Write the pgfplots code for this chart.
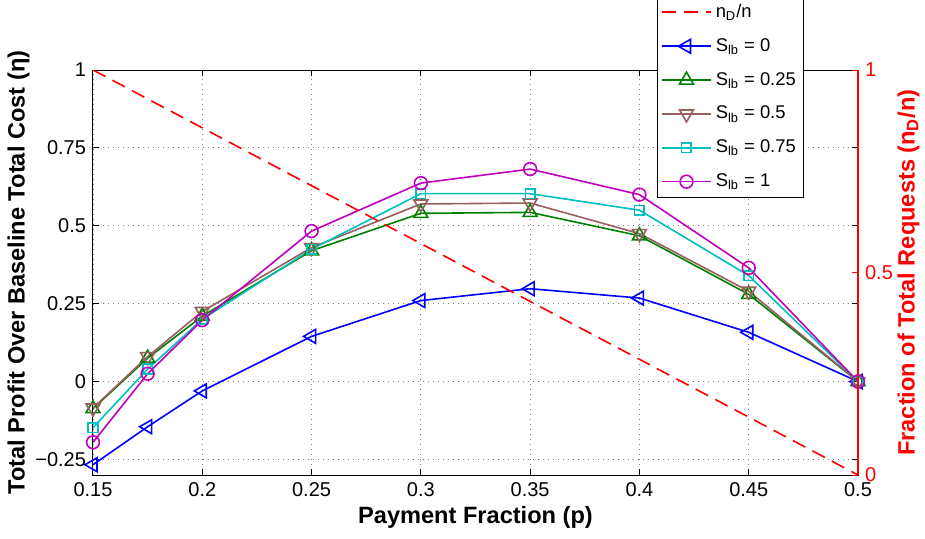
\documentclass[border=0pt]{standalone}
\usepackage{pgfplots}
\pgfplotsset{compat=1.18}
\usepackage{fontspec}
\setmainfont{Liberation Sans}
\definecolor{mblue}{rgb}{0,0,1}
\definecolor{mgreen}{rgb}{0,0.5,0}
\definecolor{mbrown}{rgb}{0.6,0.37,0.37}
\definecolor{mcyan}{rgb}{0,0.75,0.75}
\definecolor{mmag}{rgb}{0.75,0,0.75}
\pgfplotsset{
  base/.style={
    at={(0,0)}, anchor=south west, scale only axis,
    width=382.5pt, height=202.5pt,
    xmin=0.15, xmax=0.5,
    tick align=inside, major tick length=3pt,
    /pgf/number format/assume math mode=true,
    tick label style={font=\fontsize{10}{12}\selectfont},
    label style={font=\fontsize{11.8}{13}\selectfont\bfseries},
    axis line style={line width=0.5pt},
    every tick/.style={line width=0.5pt},
  },
  s0/.style={mblue, line width=0.8pt, mark=triangle, mark size=4pt, mark options={rotate=90, solid}},
  s1/.style={mgreen, line width=0.8pt, mark=triangle, mark size=4pt, mark options={solid}},
  s2/.style={mbrown, line width=0.8pt, mark=triangle, mark size=4pt, mark options={rotate=180, solid}},
  s3/.style={mcyan, line width=0.8pt, mark=square, mark size=2.4pt, mark options={solid}},
  s4/.style={mmag, line width=0.8pt, mark=o, mark size=3.2pt, mark options={solid}},
  rd/.style={red, line width=0.8pt, dash pattern=on 7pt off 4pt},
}
\begin{document}
\begin{tikzpicture}[x=1pt,y=1pt]
\useasboundingbox (-46.5,-31.5) rectangle (416,237.5);
\begin{axis}[base,
  ymin=-0.3, ymax=1,
  ytick={-0.25,0,0.25,0.5,0.75,1},
  yticklabels={−0.25,0,0.25,0.5,0.75,1},
  xtick={0.15,0.2,0.25,0.3,0.35,0.4,0.45,0.5},
  xticklabels={0.15,0.2,0.25,0.3,0.35,0.4,0.45,0.5},
  grid=major,
  major grid style={gray, line width=0.4pt, dash pattern=on 0.5pt off 2pt},
  xlabel={Payment Fraction (p)},
  ylabel={Total Profit Over Baseline Total Cost (η)},
  ylabel style={yshift=-4pt},
  xlabel style={yshift=2pt},
]
\addplot[s0] coordinates {(0.15,-0.267)(0.175,-0.145)(0.2,-0.03)(0.25,0.145)(0.3,0.26)(0.35,0.298)(0.4,0.268)(0.45,0.158)(0.5,0)};
\addplot[s1] coordinates {(0.15,-0.087)(0.175,0.075)(0.2,0.21)(0.25,0.42)(0.3,0.54)(0.35,0.543)(0.4,0.468)(0.45,0.28)(0.5,0)};
\addplot[s2] coordinates {(0.15,-0.085)(0.175,0.08)(0.2,0.225)(0.25,0.43)(0.3,0.57)(0.35,0.573)(0.4,0.475)(0.45,0.29)(0.5,0)};
\addplot[s3] coordinates {(0.15,-0.148)(0.175,0.04)(0.2,0.2)(0.25,0.425)(0.3,0.603)(0.35,0.603)(0.4,0.55)(0.45,0.34)(0.5,0)};
\addplot[s4] coordinates {(0.15,-0.195)(0.175,0.025)(0.2,0.197)(0.25,0.483)(0.3,0.637)(0.35,0.682)(0.4,0.6)(0.45,0.365)(0.5,0)};
\end{axis}
\begin{axis}[base,
  ymin=0, ymax=1,
  axis x line=none,
  axis y line*=right,
  axis line style={red, line width=0.6pt},
  ytick={0,0.5,1},
  yticklabels={0,0.5,1},
  ytick style={red},
  yticklabel style={red},
  ylabel={Fraction of Total Requests (n\textsubscript{D}/n)},
  ylabel style={red, yshift=4.5pt},
  legend cell align=left,
  legend style={at={(rel axis cs:0.737,0.684)}, anchor=south west, draw=black, fill=white,
    font=\fontsize{9.2}{11}\selectfont, row sep=5pt, inner sep=2pt},
  legend image code/.code={\draw[mark repeat=2,mark phase=2] plot coordinates {(0cm,0cm) (0.43cm,0cm) (0.86cm,0cm)};},
]
\addplot[rd, forget plot] coordinates {(0.15,1)(0.5,0)};
\addlegendimage{rd}\addlegendentry{n\textsubscript{D}/n}
\addlegendimage{s0}\addlegendentry{S\textsubscript{lb} = 0}
\addlegendimage{s1}\addlegendentry{S\textsubscript{lb} = 0.25}
\addlegendimage{s2}\addlegendentry{S\textsubscript{lb} = 0.5}
\addlegendimage{s3}\addlegendentry{S\textsubscript{lb} = 0.75}
\addlegendimage{s4}\addlegendentry{S\textsubscript{lb} = 1}
\end{axis}
\end{tikzpicture}
\end{document}
